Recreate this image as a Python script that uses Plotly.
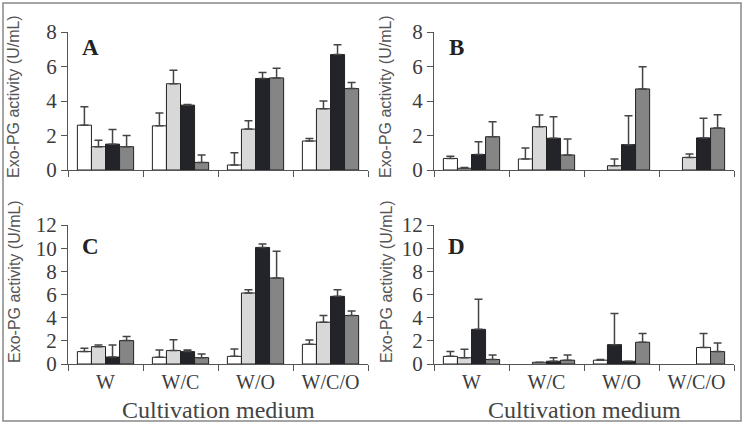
import plotly.graph_objects as go

W, H = 744, 424
categories = ["W", "W/C", "W/O", "W/C/O"]

# Panel A
A_white = [2.6, 2.56, 0.29, 1.68]
A_white_err = [1.06, 0.74, 0.71, 0.15]
A_light = [1.35, 5.0, 2.37, 3.55]
A_light_err = [0.38, 0.78, 0.48, 0.45]
A_dark = [1.5, 3.76, 5.3, 6.69]
A_dark_err = [0.85, 0.04, 0.35, 0.57]
A_grey = [1.35, 0.44, 5.34, 4.72]
A_grey_err = [0.65, 0.43, 0.56, 0.35]

# Panel B
B_white = [0.67, 0.64, None, None]
B_white_err = [0.13, 0.64, 0, 0]
B_light = [0.1, 2.51, 0.25, 0.73]
B_light_err = [0.04, 0.68, 0.39, 0.2]
B_dark = [0.9, 1.84, 1.47, 1.86]
B_dark_err = [0.74, 1.25, 1.68, 1.14]
B_grey = [1.93, 0.87, 4.7, 2.43]
B_grey_err = [0.87, 0.93, 1.29, 0.78]

# Panel C
C_white = [1.07, 0.58, 0.66, 1.7]
C_white_err = [0.29, 0.63, 0.64, 0.38]
C_light = [1.5, 1.16, 6.13, 3.61]
C_light_err = [0.15, 0.94, 0.29, 0.58]
C_dark = [0.6, 1.07, 10.06, 5.84]
C_dark_err = [1.05, 0.14, 0.29, 0.58]
C_grey = [2.02, 0.55, 7.43, 4.19]
C_grey_err = [0.35, 0.32, 2.31, 0.38]

# Panel D
D_white = [0.66, None, 0.33, None]
D_white_err = [0.41, 0, 0.05, 0]
D_light = [0.54, 0.15, 1.67, None]
D_light_err = [0.74, 0, 2.69, 0]
D_dark = [2.99, 0.24, 0.24, 1.43]
D_dark_err = [2.61, 0.3, 0, 1.2]
D_grey = [0.39, 0.33, 1.88, 1.07]
D_grey_err = [0.39, 0.45, 0.75, 0.75]

WHITE, LIGHT, DARK, GREY = "#ffffff", "#d8d8d8", "#23232a", "#858585"

panels = [
    ("A", [A_white, A_light, A_dark, A_grey], [A_white_err, A_light_err, A_dark_err, A_grey_err], None),
    ("B", [B_white, B_light, B_dark, B_grey], [B_white_err, B_light_err, B_dark_err, B_grey_err], None),
    ("C", [C_white, C_light, C_dark, C_grey], [C_white_err, C_light_err, C_dark_err, C_grey_err], None),
    ("D", [D_white, D_light, D_dark, D_grey], [D_white_err, D_light_err, D_dark_err, D_grey_err],
     [[WHITE] * 4, [LIGHT, LIGHT, DARK, LIGHT], [DARK, DARK, DARK, WHITE], [GREY] * 4]),
]

# pixel geometry of each panel: (x_left, x_right, y_top, y_bottom, ymax, title_x, title_y, label_x, label_y)
geom = {
    "A": (68, 368, 32, 170, 8, 14, 97, 90, 47),
    "B": (434, 734, 32, 170, 8, 386, 97, 456, 47),
    "C": (68, 368, 225, 364, 12, 14, 282, 90, 246),
    "D": (434, 734, 225, 364, 12, 386, 282, 456, 246),
}

fig = go.Figure()
serif = "Liberation Serif, Times New Roman, serif"
sans = "Liberation Sans, Arial, sans-serif"
tick_col = "#3c3c3c"
annotations = []

for i, (name, series, errs, colors) in enumerate(panels):
    idx = "" if i == 0 else str(i + 1)
    xa, ya = "x" + idx, "y" + idx
    base_colors = [WHITE, LIGHT, DARK, GREY]
    for s in range(4):
        col = colors[s] if colors else base_colors[s]
        fig.add_trace(go.Bar(
            x=categories, y=series[s], xaxis=xa, yaxis=ya,
            marker=dict(color=col, line=dict(color="#222222", width=1)),
            error_y=dict(type="data", symmetric=False, array=errs[s],
                         arrayminus=[0] * 4, color="#444444", thickness=1.5, width=4),
            showlegend=False,
        ))
    x0, x1, yt, yb, ymax, tx, ty, lx, ly = geom[name]
    bottom_row = name in ("C", "D")
    fig.layout["xaxis" + idx] = dict(
        domain=[x0 / W, x1 / W], anchor=ya, type="category", range=[-0.5, 3.5],
        tickson="boundaries", ticks="outside", ticklen=6, tickcolor="#555",
        showline=True, linecolor="#555", linewidth=1.3, showgrid=False, automargin=False,
        showticklabels=bottom_row, tickfont=dict(family=serif, size=20, color=tick_col),
    )
    fig.layout["yaxis" + idx] = dict(
        domain=[(H - yb) / H, (H - yt) / H], anchor=xa, range=[0, ymax], dtick=2,
        ticks="outside", ticklen=6, tickcolor="#555", showline=True, linecolor="#555",
        linewidth=1.3, showgrid=False, zeroline=False, automargin=False,
        tickfont=dict(family=serif, size=21, color=tick_col),
    )
    annotations.append(dict(text="Exo-PG activity (U/mL)", x=tx / W, y=1 - ty / H,
                            xref="paper", yref="paper", xanchor="center", yanchor="middle",
                            showarrow=False, textangle=-90,
                            font=dict(family=sans, size=16, color="#555")))
    annotations.append(dict(text="<b>%s</b>" % name, x=lx / W, y=1 - ly / H,
                            xref="paper", yref="paper", xanchor="center", yanchor="middle",
                            showarrow=False,
                            font=dict(family=serif, size=23, color="#222")))
    if bottom_row:
        annotations.append(dict(text="Cultivation medium", x=(x0 + x1) / 2 / W, y=1 - 410 / H,
                                xref="paper", yref="paper", xanchor="center", yanchor="middle",
                                showarrow=False,
                                font=dict(family=serif, size=24, color="#444")))

fig.update_layout(
    template="none",
    width=W, height=H, margin=dict(l=0, r=0, t=0, b=0, pad=0, autoexpand=False),
    paper_bgcolor="white", plot_bgcolor="white",
    barmode="group", bargap=0.25, bargroupgap=0,
    annotations=annotations,
    shapes=[dict(type="rect", xref="paper", yref="paper",
                 x0=3 / W, x1=741 / W, y0=3 / H, y1=1 - 3 / H,
                 line=dict(color="#888", width=1.5))],
)

fig.write_html("out.html")
